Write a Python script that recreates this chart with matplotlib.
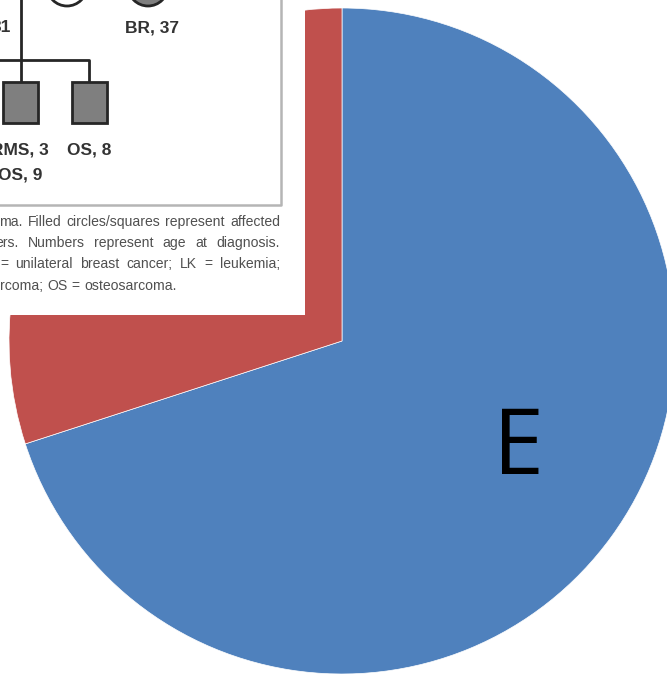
import matplotlib
matplotlib.use("Agg")
import matplotlib.pyplot as plt
from matplotlib.patches import Rectangle, Circle

# pie data
LABELS = ["E", ""]
SHARES = [70, 30]
COLORS = ["#4F81BD", "#C0504D"]

# pedigree inset text
PED_LABELS = ["31", "BR, 37", "RMS, 3", "OS, 9", "OS, 8"]
CAPTION = [
    "ma. Filled circles/squares represent affected",
    "ers. Numbers represent age at diagnosis.",
    "= unilateral breast cancer; LK = leukemia;",
    "rcoma; OS = osteosarcoma.",
]

W, H = 667, 674
fig = plt.figure(figsize=(W / 100, H / 100), dpi=100)
ax = fig.add_axes([0, 0, 1, 1])
ax.set_xlim(0, W)
ax.set_ylim(0, H)
ax.axis("off")


def py(y):
    """pixel row (top-down) -> data y"""
    return H - y


# -- pie -----------------------------------------------------------------
wedges, _ = ax.pie(SHARES, colors=COLORS, startangle=90, counterclock=False,
                   center=(342, py(341)), radius=333,
                   wedgeprops=dict(edgecolor="white", linewidth=0.5))
ax.set_xlim(0, W)
ax.set_ylim(0, H)
ax.set_aspect("auto")

ax.text(518, py(474), LABELS[0], ha="center", va="baseline",
        fontsize=66, family="Open Sans", color="black", zorder=5)

# -- pasted pedigree figure ----------------------------------------------
ax.add_patch(Rectangle((0, py(315)), 305, 315, facecolor="white",
                       edgecolor="none", zorder=3))
ax.plot([281, 281, 0], [py(-2), py(205), py(205)], color="#b5b5b5",
        lw=1.8, zorder=4)

ink = "#262626"
ax.plot([21, 21], [py(-2), py(82)], color=ink, lw=2, zorder=4)
ax.plot([0, 89, 89], [py(60), py(60), py(82)], color=ink, lw=2, zorder=4)
for x0 in (3, 72):
    ax.add_patch(Rectangle((x0, py(123)), 35, 41, facecolor="#7f7f7f",
                           edgecolor=ink, lw=2, zorder=4))
ax.add_patch(Circle((67, py(-14)), 20, facecolor="white", edgecolor=ink,
                    lw=2, zorder=4))
ax.add_patch(Circle((148, py(-14)), 20, facecolor="#7f7f7f", edgecolor=ink,
                    lw=2, zorder=4))

ped_font = dict(family=["Liberation Sans Narrow", "Liberation Sans"],
                fontweight="bold", fontsize=12.5, color="#333333",
                va="center", zorder=4)
ax.text(11, py(28), PED_LABELS[0], ha="right", **ped_font)
ax.text(152, py(28), PED_LABELS[1], ha="center", **ped_font)
ax.text(20, py(150), PED_LABELS[2], ha="center", **ped_font)
ax.text(20, py(175), PED_LABELS[3], ha="center", **ped_font)
ax.text(89, py(150), PED_LABELS[4], ha="center", **ped_font)

# caption, justified between x0 and x1
cap_font = dict(family="Liberation Sans", fontsize=10.1, color="#505050",
                va="center", zorder=4)
renderer = fig.canvas.get_renderer()


def justify(line, y, x0, x1, last=False):
    words = line.split(" ")
    texts = [ax.text(0, y, w, ha="left", **cap_font) for w in words]
    widths = [t.get_window_extent(renderer).width for t in texts]
    if last or len(words) == 1:
        gap = texts[0].get_window_extent(renderer).height * 0.3
    else:
        gap = (x1 - x0 - sum(widths)) / (len(words) - 1)
    x = x0
    for t, w in zip(texts, widths):
        t.set_x(x)
        x += w + gap


starts = [-1, -5, 0, 0]
rows = [222, 243, 264, 286]
for i, (line, x0, y) in enumerate(zip(CAPTION, starts, rows)):
    justify(line, py(y), x0, 280, last=(i == len(CAPTION) - 1))

fig.savefig("out.png", dpi=100)
